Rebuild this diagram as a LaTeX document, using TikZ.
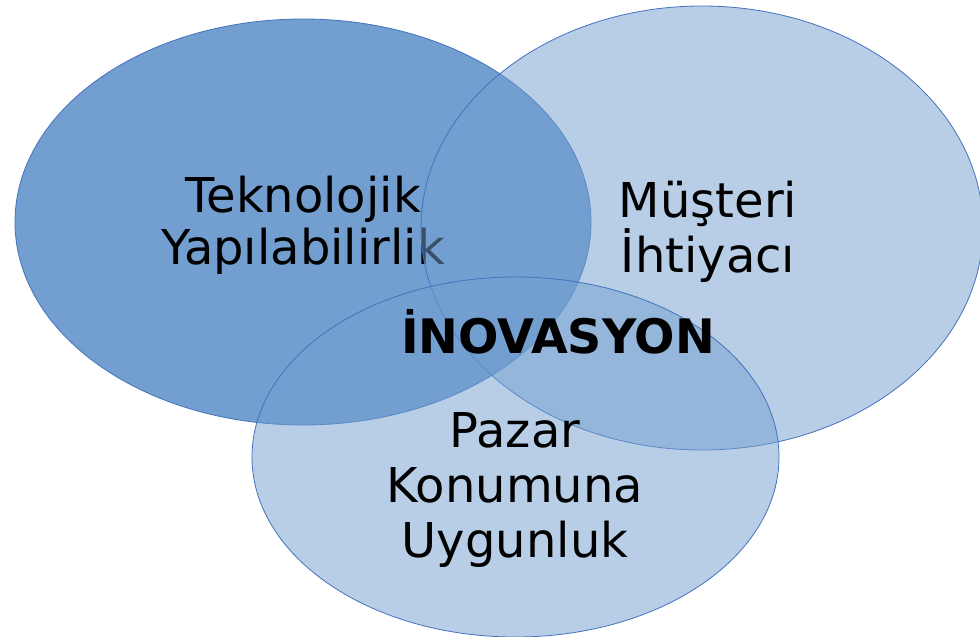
\documentclass[tikz,border=0pt]{standalone}
\usepackage{fontspec}
\setmainfont{DejaVu Sans}
\definecolor{vennfill}{RGB}{114,159,207}
\definecolor{vennedge}{RGB}{68,114,190}
\begin{document}
\begin{tikzpicture}[x=1pt,y=-1pt,
  vennshape/.style={draw=vennedge, line width=0.8pt},
  lbl/.style={anchor=base, inner sep=0pt, text=black, font=\fontsize{48}{55}\selectfont},
  boldlbl/.style={anchor=base, inner sep=0pt, text=black, font=\fontsize{47.5}{55}\selectfont\bfseries}]
\useasboundingbox (0,0) rectangle (980,637);
\fill[white] (0,0) rectangle (980,637);
% left circle (opaque)
\path[vennshape, fill=vennfill] (303,222) ellipse [x radius=288, y radius=203];
\node[lbl] (tek1) at (303,212) {Teknolojik};
\node[lbl] (tek2) at (303,264) {Yapılabilirlik};
% right circle
\path[vennshape, fill=vennfill, fill opacity=0.5] (702,228) ellipse [x radius=281, y radius=222];
\node[lbl] (mus1) at (708,217) {Müşteri};
\node[lbl] (mus2) at (708,272) {İhtiyacı};
% bottom circle
\path[vennshape, fill=vennfill, fill opacity=0.5] (515.5,457) ellipse [x radius=263.5, y radius=180];
\node[lbl] (paz1) at (515,447) {Pazar};
\node[lbl] (paz2) at (515,502) {Konumuna};
\node[lbl] (paz3) at (515,557) {Uygunluk};
% centre
\node[boldlbl] (ino) at (558,353) {İNOVASYON};
\end{tikzpicture}
\end{document}
